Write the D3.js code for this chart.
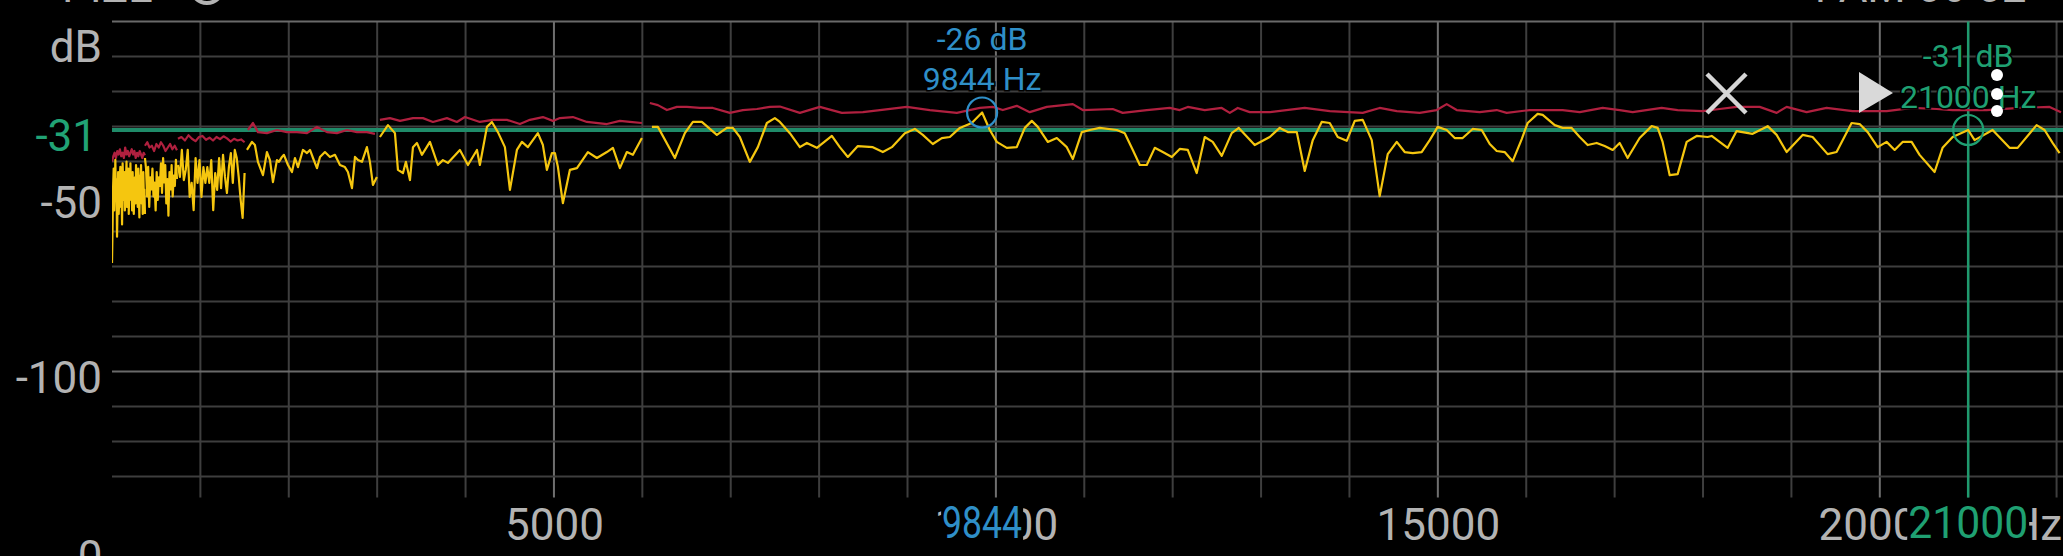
<!DOCTYPE html>
<html><head><meta charset="utf-8">
<script src="https://cdn.jsdelivr.net/npm/d3@7"></script>
<style>html,body{margin:0;padding:0;background:#000;overflow:hidden}svg{display:block}</style>
</head><body>
<svg id="c" width="2063" height="556"></svg>
<script>
// ---------------- DATA ----------------
const freqTicks = [5000, 10000, 15000, 20000];
const dbTicks = [-50, -100];
const gridHz = d3.range(1000, 22001, 1000);
const gridDb = d3.range(0, -131, -10);

// dense low-frequency bands (evenly spaced bins within each band)
const yellowBand1 = [-69,-59,-47,-42,-54,-48,-39.5,-51,-45,-61.5,-52,-43,-55,-50,-44,-41.5,-53,-47,-58,-40.5,-46,-51,-43,-54,-50,-45,-40,-53,-48,-42,-55,-47,-51,-40.5,-49,-46,-54,-43,-51,-55,-48,-44.5,-52,-41,-50,-45,-53,-42,-49,-56,-44,-47,-41,-52,-46,-55,-43,-50,-48,-55];
const yellowBand2 = [-39,-42,-50,-41.5,-53,-44.5,-48,-42,-50,-46,-54,-43,-51,-44.5,-47,-40.5,-49,-39,-46,-41,-52,-45,-55.5,-43,-48,-41,-50,-44,-47,-39.5,-45];
const yellowBand3 = [-41,-44.4,-36.7,-45.3,-42.4,-36.7,-50.1,-46.1,-53.9,-39,-46.1,-39.6,-50.1,-41.6,-46.1,-41.6,-46.1,-39.6,-53.9,-43.3,-48.1,-39,-47.6,-38.1,-44.4,-49,-41.6,-37.6,-46.1,-36.7,-39,-44.4,-51,-56.1,-43.3];
const redBand1 = [-40,-38.5,-37.5,-39,-37,-38,-36.5,-38.5,-37.5,-39,-36,-38,-37,-38.5,-37.5,-36.5,-38,-37,-39,-37.5,-38.5,-37,-38,-39,-37.5,-38.2];
const redBand2 = [-35.5,-34.5,-36,-35.5,-37,-35,-36,-34.5,-35.5,-37,-36,-35,-36.5,-35.5,-36.8];
const redBand3 = [-33.5,-33,-34,-32.5,-33.5,-34.2,-33,-32.7,-33.8,-33.2,-34,-33,-33.6,-32.8,-33.4,-34.3,-33.5,-34,-33.7,-34.5];
const bandEdges = [[0,373],[373,735],[746,1500]];

// higher bands: [Hz, dB]
const yellowBand4 = [[1527,-36.7],[1584,-34.4],[1617,-35.3],[1651,-40.1],[1708,-43.9],[1753,-37.3],[1787,-39.6],[1821,-45.9],[1866,-39.6],[1889,-40.1],[1923,-38.7],[1945,-38.1],[1991,-41.0],[2036,-43.0],[2070,-39.0],[2104,-41.6],[2160,-36.7],[2206,-37.6],[2240,-36.7],[2274,-39.0],[2319,-41.9],[2353,-38.7],[2409,-37.3],[2466,-38.7],[2522,-38.1],[2579,-41.0],[2635,-41.6],[2669,-43.0],[2715,-47.6],[2749,-38.7],[2783,-39.6],[2828,-40.1],[2884,-35.9],[2918,-40.1],[2952,-46.7],[2997,-44.4]];
const yellowBand5 = [[3031,-33.0],[3122,-29.6],[3201,-31.9],[3235,-42.4],[3292,-43.3],[3325,-40.1],[3371,-45.3],[3405,-35.9],[3450,-34.7],[3506,-38.1],[3597,-34.4],[3687,-41.0],[3744,-39.6],[3800,-40.4],[3936,-36.7],[4027,-41.0],[4129,-36.7],[4162,-41.0],[4242,-30.1],[4298,-28.7],[4366,-31.6],[4445,-35.9],[4502,-48.1],[4581,-36.7],[4638,-34.4],[4705,-35.9],[4818,-31.9],[4875,-35.3],[4920,-42.4],[4977,-37.6],[5011,-37.6],[5045,-41.6],[5101,-51.9],[5180,-42.4],[5260,-41.9],[5384,-37.3],[5486,-39.0],[5599,-37.3],[5667,-36.1],[5746,-41.9],[5825,-37.3],[5893,-38.1],[5995,-33.3]];
const yellowBand6 = [[6108,-30.1],[6176,-30.1],[6368,-39.0],[6481,-31.9],[6572,-28.7],[6673,-28.7],[6843,-32.4],[6956,-30.4],[7024,-30.4],[7103,-33.0],[7216,-40.1],[7307,-35.9],[7409,-29.0],[7499,-27.6],[7556,-28.7],[7669,-31.9],[7782,-35.9],[7861,-34.7],[7974,-36.1],[8144,-32.7],[8234,-35.9],[8325,-38.7],[8438,-35.6],[8608,-35.9],[8721,-37.3],[8823,-35.9],[8970,-31.9],[9083,-30.7],[9173,-32.4],[9286,-35.0],[9388,-33.3],[9479,-33.0],[9592,-30.4],[9727,-29.0],[9844,-26.0],[9931,-31.0],[10010,-34.4],[10123,-36.1],[10236,-35.9],[10327,-30.4],[10406,-28.4],[10474,-30.1],[10587,-34.4],[10689,-33.3],[10802,-35.9],[10870,-39.3],[10972,-31.6],[11062,-31.0],[11175,-30.4],[11368,-31.0],[11458,-31.9],[11549,-36.7],[11628,-41.0],[11707,-41.0],[11797,-36.1],[11888,-37.3],[11990,-38.7],[12080,-36.4],[12171,-36.7],[12272,-43.3],[12363,-33.0],[12453,-34.4],[12555,-38.4],[12668,-31.9],[12748,-30.4],[12928,-35.3],[13098,-33.0],[13211,-30.4],[13302,-31.6],[13404,-31.6],[13494,-42.7],[13585,-33.9],[13686,-28.7],[13777,-29.0],[13867,-33.0],[13969,-34.1],[14060,-28.4],[14150,-28.1],[14252,-33.9],[14342,-49.9],[14433,-37.9],[14535,-34.4],[14625,-37.3],[14716,-37.6],[14817,-37.3],[14908,-33.9],[14998,-30.1],[15100,-31.0],[15191,-33.3],[15281,-33.3],[15394,-30.7],[15496,-31.0],[15587,-35.0],[15666,-37.0],[15756,-37.3],[15847,-39.9],[15949,-33.6],[16016,-29.0],[16129,-26.4],[16186,-26.7],[16322,-29.6],[16412,-30.4],[16514,-30.4],[16605,-33.0],[16695,-35.3],[16797,-34.7],[16887,-35.6],[16978,-36.7],[17057,-34.7],[17147,-39.0],[17283,-33.3],[17419,-29.9],[17487,-30.4],[17543,-34.4],[17623,-43.9],[17713,-43.6],[17815,-34.4],[17928,-32.7],[18052,-33.0],[18098,-32.7],[18188,-34.4],[18279,-36.1],[18380,-31.3],[18561,-32.1],[18731,-29.9],[18833,-32.4],[18946,-37.3],[19127,-32.4],[19240,-33.0],[19410,-37.9],[19511,-37.3],[19681,-29.0],[19772,-29.3],[19863,-31.6],[19976,-35.9],[20077,-34.4],[20168,-36.7],[20258,-34.4],[20360,-34.4],[20450,-38.1],[20620,-43.0],[20710,-36.1],[20824,-33.0],[21000,-31.0],[21073,-33.9],[21276,-31.0],[21468,-36.1],[21559,-36.1],[21774,-29.6],[21864,-31.0],[21955,-34.7],[22034,-37.6]];
const redBand4 = [[1538,-31.0],[1595,-29.0],[1651,-31.6],[1753,-31.9],[1866,-31.0],[1979,-31.6],[2093,-31.6],[2206,-31.9],[2319,-30.1],[2432,-31.6],[2545,-31.9],[2658,-31.0],[2771,-31.6],[2884,-31.6],[2975,-32.1]];
const redBand5 = [[3031,-28.1],[3144,-27.6],[3258,-28.4],[3405,-27.6],[3518,-27.6],[3631,-28.7],[3789,-27.6],[3902,-28.7],[3993,-27.3],[4162,-28.7],[4310,-28.1],[4468,-28.1],[4615,-29.3],[4728,-28.1],[4875,-27.3],[4988,-28.4],[5067,-27.6],[5214,-27.3],[5373,-28.7],[5599,-29.3],[5746,-28.4],[5859,-28.7],[5995,-29.0]];
const redBand6 = [[6085,-23.3],[6176,-23.9],[6278,-25.3],[6391,-24.4],[6504,-24.4],[6651,-24.7],[6798,-24.7],[6990,-26.1],[7137,-25.3],[7296,-25.0],[7443,-24.4],[7556,-24.3],[7782,-26.1],[8008,-24.4],[8257,-26.1],[8495,-25.9],[8687,-25.3],[8992,-24.4],[9252,-25.3],[9558,-26.1],[9818,-24.7],[9965,-24.4],[10078,-25.3],[10236,-24.1],[10383,-25.9],[10576,-24.4],[10870,-23.6],[10983,-25.3],[11322,-25.0],[11435,-26.1],[11707,-25.3],[11967,-24.7],[12080,-25.3],[12171,-24.4],[12363,-25.3],[12555,-24.7],[12646,-26.1],[12736,-24.7],[12872,-25.9],[13098,-25.9],[13494,-24.7],[13777,-25.6],[14150,-26.1],[14342,-24.7],[14535,-25.6],[14795,-26.1],[14987,-25.3],[15100,-23.6],[15213,-25.3],[15474,-25.9],[15666,-25.3],[15779,-26.1],[16039,-25.3],[16412,-25.3],[16605,-25.9],[16865,-24.7],[17057,-25.3],[17204,-25.9],[17532,-24.7],[17713,-25.3],[17996,-25.6],[18188,-25.0],[18380,-24.4],[18641,-24.4],[18833,-26.1],[18946,-24.4],[19172,-25.9],[19398,-24.7],[19692,-25.6],[20077,-25.6],[20371,-24.7],[20643,-25.0],[20824,-25.3],[21208,-25.3],[21581,-24.7],[21921,-24.4],[22050,-25.9]];

const markers = [
  {hz: 9844, db: -26, color: '#2f8fc8'},
  {hz: 21000, db: -31, color: '#1fa072'}
];
const levelDb = -31;

// ---------------- CHART ----------------
const W = 2063, H = 556;
const svg = d3.select('#c');
const x = d3.scaleLinear().domain([0, 22050]).range([112, 2061]);
const y = d3.scaleLinear().domain([0, -136]).range([21.5, 497.5]);
const FONT = 'Roboto, "Noto Sans", sans-serif';
const GRAY = '#b3b3b3';
const bottomLabelWidth = [80, 120];

svg.append('rect').attr('width', W).attr('height', H).attr('fill', '#000');

// clipped header text remnants
svg.append('text').attr('x', 62).attr('y', 2).attr('font-family', FONT).attr('font-size', 44)
  .attr('fill', GRAY).text('PIZE');
svg.append('circle').attr('cx', 207).attr('cy', -13).attr('r', 16).attr('fill', 'none')
  .attr('stroke', GRAY).attr('stroke-width', 4);
svg.append('text').attr('x', 1803).attr('y', 2).attr('font-family', FONT).attr('font-size', 44)
  .attr('fill', GRAY).text('4 AM 06 02');

// grid
const grid = svg.append('g');
grid.selectAll('line.v').data(gridHz).join('line')
  .attr('x1', d => x(d)).attr('x2', d => x(d))
  .attr('y1', y(0)).attr('y2', y(-136))
  .attr('stroke', d => d % 5000 === 0 ? '#6f6f6f' : '#3e3e3e').attr('stroke-width', 2);
grid.selectAll('line.h').data(gridDb).join('line')
  .attr('x1', x(0)).attr('x2', W)
  .attr('y1', d => y(d)).attr('y2', d => y(d))
  .attr('stroke', d => d % 50 === 0 ? '#6a6a6a' : '#3e3e3e').attr('stroke-width', 2);

// clip for plot
svg.append('defs').append('clipPath').attr('id', 'plot').append('rect')
  .attr('x', x(0)).attr('y', y(0) - 2).attr('width', W - x(0)).attr('height', y(-136) - y(0) + 2);

// green level + vertical cursor
svg.append('line').attr('x1', x(0)).attr('x2', W).attr('y1', y(levelDb)).attr('y2', y(levelDb))
  .attr('stroke', '#1f8b69').attr('stroke-width', 4);
svg.append('line').attr('x1', x(markers[1].hz)).attr('x2', x(markers[1].hz))
  .attr('y1', y(0)).attr('y2', y(-136)).attr('stroke', '#1f9a6e').attr('stroke-width', 2.5);

// series
const line = d3.line().x(d => x(d[0])).y(d => y(d[1]));
function bandPairs(vals, edges) {
  const [f0, f1] = edges; const n = vals.length;
  return vals.map((v, i) => [f0 + (f1 - f0) * i / (n - 1), v]);
}
const redSegs = [bandPairs(redBand1, bandEdges[0]), bandPairs(redBand2, bandEdges[1]), bandPairs(redBand3, bandEdges[2]), redBand4, redBand5, redBand6];
const yellowSegs = [bandPairs(yellowBand1, bandEdges[0]), bandPairs(yellowBand2, bandEdges[1]), bandPairs(yellowBand3, bandEdges[2]), yellowBand4, yellowBand5, yellowBand6];
const series = svg.append('g').attr('clip-path', 'url(#plot)');
series.selectAll('path.red').data(redSegs).join('path').attr('class', 'red')
  .attr('d', line).attr('fill', 'none').attr('stroke', '#b0203f').attr('stroke-width', 2.2).attr('stroke-linejoin', 'round');
series.selectAll('path.yel').data(yellowSegs).join('path').attr('class', 'yel')
  .attr('d', line).attr('fill', 'none').attr('stroke', '#f5c60f').attr('stroke-width', 2.2).attr('stroke-linejoin', 'round');

// axes
const yAxis = d3.axisLeft(y).tickValues(dbTicks).tickSize(0).tickPadding(10).tickFormat(d => String(d));
const gy = svg.append('g').attr('transform', `translate(${x(0)},0)`).call(yAxis);
gy.select('.domain').remove();
gy.attr('font-size', 44).attr('font-family', FONT);
gy.selectAll('text').attr('fill', GRAY).attr('dy', '0.48em');

const xAxis = d3.axisBottom(x).tickValues(freqTicks).tickSize(0).tickPadding(11).tickFormat(d => String(d));
const gx = svg.append('g').attr('transform', `translate(0,${y(-136)})`).call(xAxis);
gx.select('.domain').remove();
gx.attr('font-size', 44).attr('font-family', FONT);
gx.selectAll('text').attr('fill', GRAY);

svg.append('text').attr('x', 102).attr('y', 62).attr('text-anchor', 'end')
  .attr('font-family', FONT).attr('font-size', 44).attr('fill', GRAY).text('dB');
svg.append('text').attr('x', 2062).attr('y', 540).attr('text-anchor', 'end')
  .attr('font-family', FONT).attr('font-size', 44).attr('fill', GRAY).text('Hz');
svg.append('text').attr('x', 90).attr('y', 572).attr('text-anchor', 'middle')
  .attr('font-family', FONT).attr('font-size', 44).attr('fill', GRAY).text('0');
svg.append('text').attr('x', 97).attr('y', y(levelDb) + 21).attr('text-anchor', 'end')
  .attr('font-family', FONT).attr('font-size', 44).attr('fill', '#21a375').text(String(levelDb));

// markers
markers.forEach((m, i) => {
  const cx = x(m.hz), cy = y(m.db);
  svg.append('circle').attr('cx', cx).attr('cy', cy).attr('r', 15)
    .attr('fill', 'none').attr('stroke', m.color).attr('stroke-width', 2.2);
  [[`${m.db} dB`, -63], [`${m.hz} Hz`, -22.5]].forEach(([t, dy]) => {
    svg.append('text').attr('x', cx).attr('y', cy + dy).attr('text-anchor', 'middle')
      .attr('font-family', FONT).attr('font-size', 32).attr('fill', m.color)
      .attr('stroke', '#000').attr('stroke-width', 3).attr('paint-order', 'stroke').text(t);
  });
  const g = svg.append('g');
  const tx = g.append('text').attr('x', cx).attr('y', 538).attr('text-anchor', 'middle')
    .attr('font-family', FONT).attr('font-size', 44)
    .attr('textLength', bottomLabelWidth[i]).attr('lengthAdjust', 'spacingAndGlyphs')
    .attr('fill', m.color).text(String(m.hz));
  const bb = tx.node().getBBox();
  g.insert('rect', 'text').attr('x', bb.x - 1).attr('y', bb.y + 6).attr('width', bb.width + 2).attr('height', bb.height - 10).attr('fill', '#000');
});

// UI icons
const ui = svg.append('g');
ui.append('path').attr('d', 'M1707,74 L1746,113 M1746,74 L1707,113')
  .attr('stroke', '#d6d6d6').attr('stroke-width', 4.5).attr('fill', 'none');
ui.append('path').attr('d', 'M1859,72 L1859,113 L1893,93 Z').attr('fill', '#d9d9d9');
[75, 94, 111].forEach(cy => ui.append('circle').attr('cx', 1997).attr('cy', cy).attr('r', 6).attr('fill', '#fff'));
</script>
</body></html>
